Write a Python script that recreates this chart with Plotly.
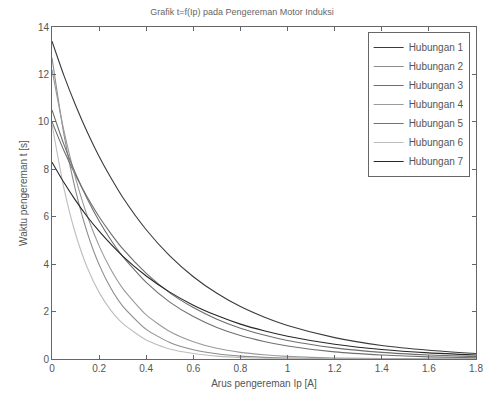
import plotly.graph_objects as go

ip = [0, 0.05, 0.1, 0.15, 0.2, 0.25, 0.3, 0.4, 0.5, 0.6, 0.7, 0.8, 0.9, 1.0, 1.2, 1.4, 1.6, 1.8]

hub1 = [13.4, 11.97, 10.70, 9.56, 8.54, 7.64, 6.82, 5.45, 4.35, 3.47, 2.77, 2.21, 1.77, 1.41, 0.90, 0.57, 0.37, 0.23]
hub2 = [12.7, 9.50, 7.11, 5.32, 3.98, 2.98, 2.23, 1.25, 0.70, 0.39, 0.22, 0.12, 0.07, 0.04, 0.01, 0.0, 0.0, 0.0]
hub3 = [10.0, 8.80, 7.75, 6.82, 6.00, 5.29, 4.65, 3.61, 2.79, 2.17, 1.68, 1.30, 1.01, 0.78, 0.47, 0.28, 0.17, 0.10]
hub4 = [12.2, 9.65, 7.63, 6.03, 4.77, 3.77, 2.98, 1.86, 1.16, 0.73, 0.45, 0.28, 0.18, 0.11, 0.04, 0.02, 0.01, 0.0]
hub5 = [10.5, 9.06, 7.82, 6.75, 5.82, 5.02, 4.33, 3.23, 2.40, 1.79, 1.33, 0.99, 0.74, 0.55, 0.30, 0.17, 0.09, 0.05]
hub6 = [9.9, 7.23, 5.27, 3.85, 2.81, 2.05, 1.50, 0.80, 0.42, 0.23, 0.12, 0.06, 0.03, 0.02, 0.0, 0.0, 0.0, 0.0]
hub7 = [8.3, 7.45, 6.69, 6.00, 5.39, 4.84, 4.34, 3.50, 2.82, 2.27, 1.83, 1.47, 1.19, 0.96, 0.62, 0.40, 0.26, 0.17]

series = [hub1, hub2, hub3, hub4, hub5, hub6, hub7]
names = ["Hubungan 1", "Hubungan 2", "Hubungan 3", "Hubungan 4",
         "Hubungan 5", "Hubungan 6", "Hubungan 7"]
colors = ["#3a3a3a", "#8c8c8c", "#6e6e6e", "#9a9a9a", "#707070", "#bdbdbd", "#262626"]

fig = go.Figure()
for y, n, c in zip(series, names, colors):
    fig.add_trace(go.Scatter(x=ip, y=y, name=n, mode="lines",
                             line=dict(color=c, width=1.1, shape="spline", smoothing=0.6)))

axis_common = dict(showline=True, linecolor="#666", linewidth=1, mirror="ticks",
                   ticks="inside", ticklen=4, tickcolor="#666",
                   showgrid=False, zeroline=False, automargin=False,
                   tickfont=dict(size=10, color="#555"))

fig.update_layout(
    width=484, height=398,
    margin=dict(l=52, r=8, t=27, b=39),
    paper_bgcolor="white", plot_bgcolor="white",
    font=dict(family="Liberation Sans, Arial, sans-serif", size=10, color="#555"),
    title=dict(text="Grafik t=f(Ip) pada Pengereman Motor Induksi",
               x=0.5, xanchor="center", y=0.97, yanchor="middle",
               font=dict(size=9, color="#666")),
    xaxis=dict(range=[0, 1.8], dtick=0.2, tick0=0,
               title=dict(text="Arus pengereman Ip [A]", standoff=6,
                          font=dict(size=10, color="#555")),
               **axis_common),
    yaxis=dict(range=[0, 14], dtick=2, tick0=0,
               title=dict(text="Waktu pengereman t [s]", standoff=8,
                          font=dict(size=10, color="#555")),
               **axis_common),
    legend=dict(x=0.985, y=0.985, xanchor="right", yanchor="top",
                bordercolor="#666", borderwidth=1, bgcolor="white",
                font=dict(size=10, color="#555"), tracegroupgap=0,
                itemwidth=30),
    showlegend=True,
)

fig.write_html("out.html")
